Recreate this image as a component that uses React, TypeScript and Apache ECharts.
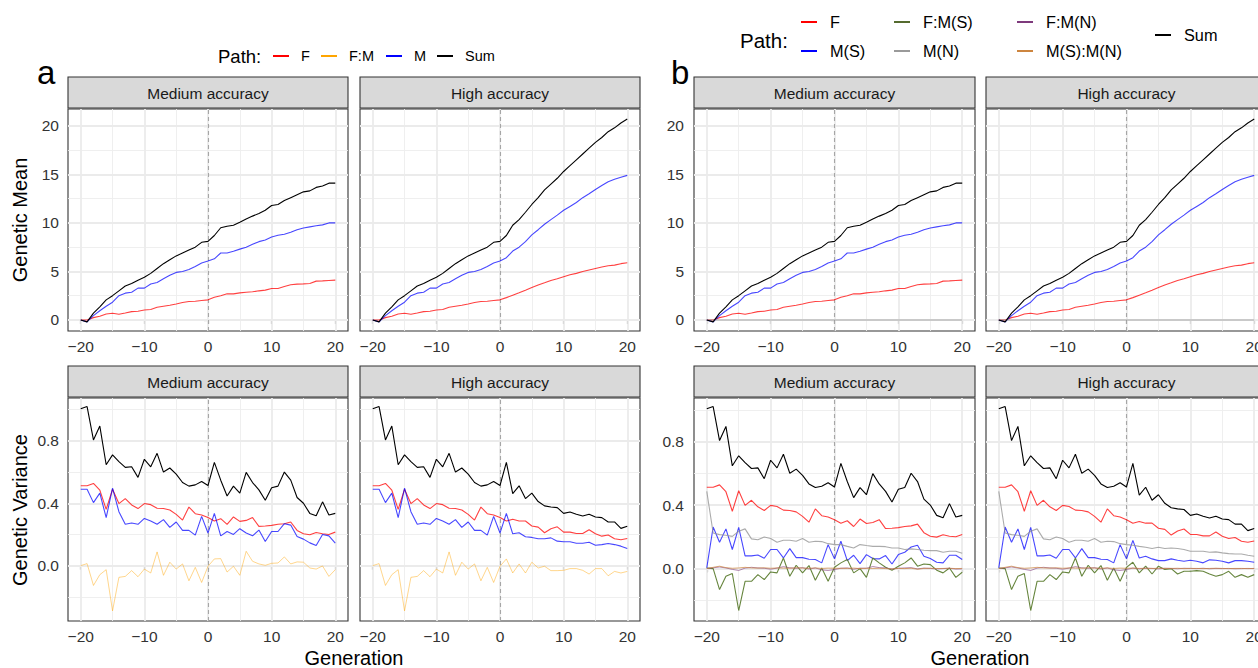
import React, { useEffect, useRef } from "react";
import * as echarts from "echarts";

// ---------------- data ----------------
const generations = [-20,-19,-18,-17,-16,-15,-14,-13,-12,-11,-10,-9,-8,-7,-6,-5,-4,-3,-2,-1,0,1,2,3,4,5,6,7,8,9,10,11,12,13,14,15,16,17,18,19,20];
const xTicks = [-20, -10, 0, 10, 20];
const xMinor = [-15, -5, 5, 15];
const meanTicks = [0, 5, 10, 15, 20];
const meanMinor = [2.5, 7.5, 12.5, 17.5];
const varTicks = [0, 0.4, 0.8];
const varMinor = [-0.2, 0.2, 0.6, 1.0];
const facetLabels = ["Medium accuracy", "High accuracy"];
const legendA = ["F", "F:M", "M", "Sum"];
const legendB = ["F", "M(S)", "F:M(S)", "M(N)", "F:M(N)", "M(S):M(N)", "Sum"];

// Genetic mean (figure a and b)
const meanMedF = [0,0,0.24,0.38,0.62,0.69,0.59,0.72,0.86,0.9,1.03,1.07,1.3,1.41,1.52,1.65,1.79,1.9,1.93,2.0,2.07,2.34,2.5,2.69,2.69,2.79,2.86,2.9,3.0,3.07,3.24,3.24,3.45,3.62,3.69,3.72,3.76,4.0,4.03,4.07,4.1];
const meanMedM = [0,-0.2,0.45,0.95,1.41,1.83,2.5,2.76,2.86,3.28,3.28,3.7,3.86,4.24,4.6,4.9,5.0,5.2,5.5,5.86,6.07,6.3,6.9,6.9,7.07,7.3,7.5,7.8,8.07,8.24,8.55,8.72,8.83,9.03,9.3,9.48,9.59,9.7,9.8,10.0,10.0];
const meanMedSum = [0,-0.2,0.7,1.35,2.07,2.5,3.0,3.5,3.75,4.1,4.4,4.8,5.3,5.8,6.2,6.6,6.9,7.2,7.5,8.0,8.1,8.7,9.5,9.66,9.76,10.07,10.4,10.7,10.97,11.3,11.8,11.9,12.3,12.6,12.9,13.2,13.3,13.66,13.8,14.1,14.1];
const meanHighF = [0,0,0.24,0.38,0.62,0.69,0.59,0.72,0.86,0.9,1.03,1.07,1.3,1.41,1.52,1.65,1.79,1.9,1.93,2.0,2.07,2.3,2.55,2.8,3.07,3.35,3.6,3.83,4.07,4.25,4.45,4.65,4.8,5.0,5.15,5.3,5.45,5.58,5.65,5.8,5.9];
const meanHighM = [0,-0.2,0.45,0.95,1.41,1.83,2.5,2.76,2.86,3.28,3.28,3.7,3.86,4.24,4.6,4.9,5.0,5.2,5.5,5.86,6.07,6.41,7.1,7.5,8.07,8.76,9.3,9.86,10.34,10.8,11.3,11.7,12.1,12.6,13.0,13.45,13.86,14.25,14.5,14.7,14.9];
const meanHighSum = [0,-0.2,0.7,1.35,2.07,2.5,3.0,3.5,3.75,4.1,4.4,4.8,5.3,5.8,6.2,6.6,6.9,7.2,7.5,8.0,8.1,8.7,9.76,10.34,11.1,11.9,12.6,13.4,14.0,14.6,15.3,15.9,16.5,17.1,17.7,18.3,18.8,19.4,19.8,20.3,20.7];
const meanMN = [0,0,0,0,0,0,0,0,0,0,0,0,0,0,0,0,0,0,0,0,0,0,0,0,0,0,0,0,0,0,0,0,0,0,0,0,0,0,0,0,0];

// Genetic variance, figure a
const varMedF = [0.512,0.512,0.527,0.484,0.361,0.49,0.398,0.43,0.389,0.366,0.398,0.391,0.368,0.366,0.357,0.329,0.292,0.376,0.333,0.325,0.308,0.286,0.301,0.265,0.312,0.284,0.29,0.308,0.252,0.254,0.258,0.265,0.269,0.28,0.226,0.204,0.198,0.213,0.204,0.2,0.215];
const varMedM = [0.49,0.49,0.404,0.465,0.308,0.497,0.346,0.265,0.273,0.265,0.303,0.286,0.265,0.295,0.245,0.28,0.226,0.226,0.196,0.316,0.209,0.335,0.191,0.219,0.2,0.237,0.209,0.191,0.228,0.155,0.219,0.219,0.269,0.26,0.187,0.17,0.146,0.129,0.2,0.191,0.144];
const varMedFM = [0,0.013,-0.127,-0.058,-0.026,-0.29,-0.075,-0.069,-0.032,-0.071,-0.022,-0.047,0.088,-0.062,0.022,-0.022,0.011,-0.097,-0.011,-0.108,-0.004,0.043,0.045,-0.041,-0.004,-0.062,0.092,0.028,0.011,0.002,0.015,0.017,0.056,0.011,0.024,0.022,-0.015,-0.022,-0.002,-0.069,-0.026];
const varMedSum = [1.006,1.02,0.806,0.895,0.647,0.71,0.667,0.63,0.634,0.566,0.682,0.634,0.72,0.6,0.626,0.587,0.533,0.51,0.518,0.54,0.514,0.662,0.548,0.447,0.51,0.465,0.598,0.533,0.486,0.419,0.499,0.51,0.6,0.548,0.437,0.4,0.335,0.32,0.409,0.325,0.335];
const varHighF = [0.512,0.512,0.527,0.484,0.361,0.49,0.398,0.43,0.389,0.366,0.398,0.391,0.368,0.366,0.357,0.329,0.292,0.376,0.333,0.325,0.308,0.286,0.297,0.286,0.286,0.254,0.247,0.211,0.237,0.249,0.215,0.215,0.206,0.206,0.23,0.204,0.189,0.196,0.172,0.166,0.174];
const varHighM = [0.49,0.49,0.404,0.465,0.308,0.497,0.346,0.265,0.273,0.265,0.303,0.286,0.265,0.295,0.245,0.28,0.226,0.226,0.196,0.316,0.209,0.335,0.204,0.211,0.185,0.181,0.172,0.172,0.178,0.157,0.153,0.153,0.144,0.144,0.15,0.131,0.135,0.142,0.135,0.125,0.11];
const varHighFM = [0,0.013,-0.127,-0.058,-0.026,-0.29,-0.075,-0.069,-0.032,-0.071,-0.022,-0.047,0.088,-0.062,0.022,-0.022,0.011,-0.097,-0.011,-0.108,-0.004,0.043,-0.047,0.011,-0.047,0.022,-0.015,-0.004,-0.032,-0.032,-0.03,-0.019,-0.019,-0.03,-0.054,-0.019,-0.019,-0.065,-0.037,-0.047,-0.037];
const varHighSum = [1.006,1.02,0.806,0.895,0.647,0.71,0.667,0.63,0.634,0.566,0.682,0.634,0.72,0.6,0.626,0.587,0.533,0.51,0.518,0.54,0.514,0.662,0.462,0.512,0.43,0.465,0.411,0.383,0.376,0.372,0.335,0.344,0.329,0.318,0.329,0.312,0.308,0.28,0.28,0.239,0.252];

// Genetic variance, figure b (F and Sum shared with figure a)
const bVarMedMS = [0.004,0.262,0.166,0.25,0.12,0.26,0.08,0.08,0.086,0.065,0.12,0.12,0.067,0.126,0.069,0.069,0.059,0.057,0.036,0.151,0.061,0.172,0.05,0.084,0.031,0.088,0.063,0.061,0.082,0.029,0.088,0.103,0.136,0.147,0.078,0.063,0.04,0.036,0.084,0.084,0.057];
const bVarMedMN = [0.486,0.224,0.214,0.21,0.203,0.235,0.25,0.187,0.182,0.199,0.189,0.166,0.178,0.178,0.172,0.189,0.166,0.172,0.17,0.157,0.151,0.151,0.14,0.13,0.151,0.145,0.14,0.14,0.138,0.13,0.13,0.12,0.124,0.12,0.115,0.113,0.113,0.103,0.109,0.109,0.096];
const bVarMedFMS = [0.004,0,-0.132,-0.048,-0.031,-0.264,-0.08,-0.08,-0.038,-0.069,-0.021,-0.027,0.067,-0.048,0.021,-0.027,0.019,-0.073,0.004,-0.08,0.008,0.036,0.057,-0.027,0,-0.055,0.067,0.036,0.008,-0.01,0.015,0.036,0.067,0.015,0.029,0.025,-0.01,-0.027,0.004,-0.055,-0.023];
const bVarMedFMN = [0,0.005,0.01,0.004,-0.005,-0.012,0.003,0.008,0.004,0.002,-0.004,0.003,0.012,0.005,0.002,0.006,-0.003,0.004,-0.008,-0.012,-0.006,0.002,0.004,-0.004,0.003,0.002,0.013,0.006,0.004,-0.003,0.002,0.004,0.006,-0.002,0.003,0.001,-0.002,0,0.002,-0.003,-0.002];
const bVarMedMSMN = [0,0.008,0.015,0.006,0.002,0.004,0.008,0.004,0.003,0.005,0.002,0.004,0.003,0.002,0.005,0.003,0.002,0.004,0.001,0.003,0.002,0.002,0.001,0.003,0,0.002,0.001,0.002,0,-0.002,0.001,0,0.002,-0.004,0.001,0.002,0,0.001,0.002,0,0.001];
const bVarHighMS = [0.004,0.262,0.166,0.25,0.12,0.26,0.08,0.08,0.086,0.065,0.12,0.12,0.067,0.126,0.069,0.069,0.059,0.057,0.036,0.151,0.061,0.178,0.067,0.078,0.061,0.05,0.05,0.061,0.052,0.046,0.052,0.046,0.036,0.055,0.052,0.046,0.036,0.05,0.05,0.046,0.04];
const bVarHighMN = [0.486,0.224,0.214,0.21,0.203,0.235,0.25,0.187,0.182,0.199,0.189,0.166,0.178,0.178,0.172,0.189,0.166,0.172,0.17,0.157,0.151,0.147,0.14,0.134,0.126,0.134,0.126,0.13,0.126,0.12,0.109,0.109,0.109,0.103,0.105,0.099,0.094,0.092,0.092,0.084,0.078];
const bVarHighFMS = [0.004,0,-0.132,-0.048,-0.031,-0.264,-0.08,-0.08,-0.038,-0.069,-0.021,-0.027,0.067,-0.048,0.021,-0.027,0.019,-0.073,0.004,-0.08,0.008,0.04,-0.027,0.015,-0.034,0.015,-0.006,0,-0.034,-0.017,-0.017,-0.013,-0.017,-0.034,-0.048,-0.038,-0.017,-0.055,-0.038,-0.055,-0.038];
const bVarHighFMN = [0,0.005,0.01,0.004,-0.005,-0.012,0.003,0.008,0.004,0.002,-0.004,0.003,0.012,0.005,0.002,0.006,-0.003,0.004,-0.008,-0.012,-0.006,0.003,-0.002,0.002,0.001,-0.002,0.002,0.001,-0.001,0.002,0.001,0,0.002,-0.001,0.001,0,0.001,-0.001,0,0.001,0];
const bVarHighMSMN = [0,0.008,0.015,0.006,0.002,0.004,0.008,0.004,0.003,0.005,0.002,0.004,0.003,0.002,0.005,0.003,0.002,0.004,0.001,0.003,0.002,0.003,0.001,0.002,0.001,0.002,0.001,0.001,0.002,0,0.001,0.001,0,0.001,0.002,0.001,0,0.001,0.001,0,0.001];

// ---------------- styling ----------------
const FONT = '"Liberation Sans", Arial, Helvetica, sans-serif';
const COLORS: Record<string, { key: string; line: string; width: number }> = {
  F: { key: "#FF0000", line: "rgba(255,0,0,0.75)", width: 1.1 },
  "F:M": { key: "#FFA500", line: "rgba(255,165,0,0.5)", width: 0.9 },
  M: { key: "#0000FF", line: "rgba(0,0,255,0.72)", width: 1.1 },
  "M(S)": { key: "#0000FF", line: "rgba(0,0,255,0.72)", width: 1.1 },
  "F:M(S)": { key: "#556B2F", line: "rgba(85,120,40,0.9)", width: 1.1 },
  "M(N)": { key: "#9A9A9A", line: "rgba(150,150,150,0.8)", width: 1.1 },
  "F:M(N)": { key: "#7E3A7C", line: "rgba(126,58,124,0.6)", width: 1.0 },
  "M(S):M(N)": { key: "#CD853F", line: "rgba(205,133,63,0.7)", width: 1.0 },
  Sum: { key: "#000000", line: "#000000", width: 1.1 },
};

type Panel = {
  left: number; top: number; width: number; height: number; showY: boolean;
  strip: string; kind: "mean" | "var"; yMin: number; yMax: number; yLabelMargin: number;
  lines: { name: string; values: number[] }[];
};

const TOP_Y = 109, TOP_H = 222, BOT_Y = 398, BOT_H = 223;

const panels: Panel[] = [
  // figure a
  { left: 68, top: TOP_Y, width: 280, height: TOP_H, showY: true, strip: facetLabels[0], kind: "mean", yMin: -1.14, yMax: 21.74, yLabelMargin: 9,
    lines: [{ name: "F", values: meanMedF }, { name: "M", values: meanMedM }, { name: "Sum", values: meanMedSum }] },
  { left: 360, top: TOP_Y, width: 280, height: TOP_H, showY: false, strip: facetLabels[1], kind: "mean", yMin: -1.14, yMax: 21.74, yLabelMargin: 9,
    lines: [{ name: "F", values: meanHighF }, { name: "M", values: meanHighM }, { name: "Sum", values: meanHighSum }] },
  { left: 68, top: BOT_Y, width: 280, height: BOT_H, showY: true, strip: facetLabels[0], kind: "var", yMin: -0.355, yMax: 1.075, yLabelMargin: 9,
    lines: [{ name: "F", values: varMedF }, { name: "F:M", values: varMedFM }, { name: "M", values: varMedM }, { name: "Sum", values: varMedSum }] },
  { left: 360, top: BOT_Y, width: 280, height: BOT_H, showY: false, strip: facetLabels[1], kind: "var", yMin: -0.355, yMax: 1.075, yLabelMargin: 9,
    lines: [{ name: "F", values: varHighF }, { name: "F:M", values: varHighFM }, { name: "M", values: varHighM }, { name: "Sum", values: varHighSum }] },
  // figure b
  { left: 694, top: TOP_Y, width: 281, height: TOP_H, showY: true, strip: facetLabels[0], kind: "mean", yMin: -1.14, yMax: 21.74, yLabelMargin: 10,
    lines: [{ name: "F", values: meanMedF }, { name: "M(S)", values: meanMedM }, { name: "M(N)", values: meanMN }, { name: "Sum", values: meanMedSum }] },
  { left: 986, top: TOP_Y, width: 281, height: TOP_H, showY: false, strip: facetLabels[1], kind: "mean", yMin: -1.14, yMax: 21.74, yLabelMargin: 10,
    lines: [{ name: "F", values: meanHighF }, { name: "M(S)", values: meanHighM }, { name: "M(N)", values: meanMN }, { name: "Sum", values: meanHighSum }] },
  { left: 694, top: BOT_Y, width: 281, height: BOT_H, showY: true, strip: facetLabels[0], kind: "var", yMin: -0.33, yMax: 1.074, yLabelMargin: 10,
    lines: [{ name: "F", values: varMedF }, { name: "M(S)", values: bVarMedMS }, { name: "F:M(S)", values: bVarMedFMS }, { name: "M(N)", values: bVarMedMN },
      { name: "F:M(N)", values: bVarMedFMN }, { name: "M(S):M(N)", values: bVarMedMSMN }, { name: "Sum", values: varMedSum }] },
  { left: 986, top: BOT_Y, width: 281, height: BOT_H, showY: false, strip: facetLabels[1], kind: "var", yMin: -0.33, yMax: 1.074, yLabelMargin: 10,
    lines: [{ name: "F", values: varHighF }, { name: "M(S)", values: bVarHighMS }, { name: "F:M(S)", values: bVarHighFMS }, { name: "M(N)", values: bVarHighMN },
      { name: "F:M(N)", values: bVarHighFMN }, { name: "M(S):M(N)", values: bVarHighMSMN }, { name: "Sum", values: varHighSum }] },
];

const GRID_MAJOR = { color: "#EBEBEB", width: 1.8, type: "solid" };
const GRID_MINOR = { color: "#EDEDED", width: 0.9, type: "solid" };
const fmtX = (v: number) => (v < 0 ? "\u2212" + Math.abs(v) : String(v));

function buildOption() {
  const grid: any[] = [];
  const xAxis: any[] = [];
  const yAxis: any[] = [];
  const series: any[] = [];
  const graphic: any[] = [];

  panels.forEach((p, i) => {
    grid.push({
      left: p.left, top: p.top, width: p.width, height: p.height, show: true,
      borderColor: "#333333", borderWidth: 1.1, backgroundColor: "#ffffff",
      containLabel: false, outerBoundsMode: "none",
    });
    xAxis.push({
      type: "value", gridIndex: i, min: -22, max: 22,
      splitLine: { show: false }, axisLine: { show: false },
      axisTick: { show: true, customValues: xTicks, length: 4, lineStyle: { color: "#333333", width: 1.1 } },
      axisLabel: { customValues: xTicks, formatter: fmtX, fontSize: 15.5, color: "#333333", fontFamily: FONT, margin: 7 },
    });
    const yt = p.kind === "mean" ? meanTicks : varTicks;
    yAxis.push({
      type: "value", gridIndex: i, min: p.yMin, max: p.yMax,
      splitLine: { show: false }, axisLine: { show: false },
      axisTick: { show: p.showY, customValues: yt, length: 4, lineStyle: { color: "#333333", width: 1.1 } },
      axisLabel: {
        show: p.showY, customValues: yt, fontSize: 15.5, color: "#333333", fontFamily: FONT, margin: p.yLabelMargin,
        formatter: (v: number) => (p.kind === "mean" ? String(v) : v.toFixed(1)),
      },
    });
    const ym = p.kind === "mean" ? meanMinor : varMinor;
    const mlData: any[] = [];
    xMinor.forEach((v) => mlData.push({ xAxis: v, lineStyle: GRID_MINOR }));
    ym.forEach((v) => mlData.push({ yAxis: v, lineStyle: GRID_MINOR }));
    xTicks.forEach((v) => mlData.push({ xAxis: v, lineStyle: GRID_MAJOR }));
    yt.forEach((v) => mlData.push({ yAxis: v, lineStyle: GRID_MAJOR }));
    mlData.push({ xAxis: 0, lineStyle: { color: "#A6A6A6", width: 1.1, type: [4, 3] } });
    series.push({
      type: "line", xAxisIndex: i, yAxisIndex: i, data: [], z: 1, silent: true,
      markLine: { silent: true, z: 1, symbol: ["none", "none"], label: { show: false }, emphasis: { disabled: true }, animation: false, data: mlData },
    });
    p.lines.forEach((l) => {
      const c = COLORS[l.name];
      series.push({
        type: "line", name: l.name, xAxisIndex: i, yAxisIndex: i, z: 3,
        data: generations.map((g, k) => [g, l.values[k]]),
        showSymbol: false, symbol: "none", silent: true,
        lineStyle: { color: c.line, width: c.width }, itemStyle: { color: c.line },
        emphasis: { disabled: true },
      });
    });
    // facet strip
    const stripTop = p.top - 32;
    graphic.push({ type: "rect", shape: { x: p.left, y: stripTop, width: p.width, height: 31 }, style: { fill: "#D9D9D9", stroke: "#333333", lineWidth: 1.1 }, z: 10 });
    graphic.push({ type: "text", x: p.left + p.width / 2, y: stripTop + 16, style: { text: p.strip, fontSize: 15.5, fontFamily: FONT, fill: "#1A1A1A", align: "center", verticalAlign: "middle" }, z: 11 });
  });

  const txt = (text: string, x: number, y: number, size: number, extra: any = {}) => ({
    type: "text", x, y, z: 12, ...extra,
    style: { text, fontSize: size, fontFamily: FONT, fill: "#000000", align: "left", verticalAlign: "middle", ...(extra.style || {}) },
  });
  const key = (x: number, y: number, color: string) => ({ type: "line", z: 12, shape: { x1: x, y1: y, x2: x + 16, y2: y }, style: { stroke: color, lineWidth: 2 } });

  // panel tags
  graphic.push(txt("a", 37, 72, 33));
  graphic.push(txt("b", 671, 72, 33));
  // axis titles
  graphic.push(txt("Genetic Mean", 20, 220, 20, { rotation: Math.PI / 2, style: { align: "center" } }));
  graphic.push(txt("Genetic Variance", 20, 510, 20, { rotation: Math.PI / 2, style: { align: "center" } }));
  graphic.push(txt("Generation", 354, 658, 20, { style: { align: "center" } }));
  graphic.push(txt("Generation", 980, 658, 20, { style: { align: "center" } }));

  // legend a
  graphic.push(txt("Path:", 218, 56, 18.5));
  const aKeyX = [273, 321, 386, 437];
  legendA.forEach((n, k) => {
    graphic.push(key(aKeyX[k], 56, COLORS[n].key));
    graphic.push(txt(n, aKeyX[k] + 28, 56, 14.5));
  });
  // legend b
  graphic.push(txt("Path:", 740, 40, 20.5));
  const bPos: [number, number][] = [[801, 22], [801, 51], [894, 22], [894, 51], [1017, 22], [1017, 51], [1155, 35]];
  legendB.forEach((n, k) => {
    const [x, y] = bPos[k];
    graphic.push(key(x, y, COLORS[n].key));
    graphic.push(txt(n, x + 29, y, 16.3));
  });

  return {
    animation: false,
    backgroundColor: "#ffffff",
    textStyle: { fontFamily: FONT },
    grid, xAxis, yAxis, series, graphic,
  };
}

export default function App() {
  const ref = useRef<HTMLDivElement | null>(null);
  useEffect(() => {
    if (!ref.current) return;
    const chart = echarts.init(ref.current, undefined, { renderer: "svg" });
    chart.setOption(buildOption() as any);
    return () => chart.dispose();
  }, []);
  return <div ref={ref} style={{ position: "fixed", left: 0, top: 0, width: 1258, height: 668, overflow: "hidden", background: "#fff" }} />;
}
